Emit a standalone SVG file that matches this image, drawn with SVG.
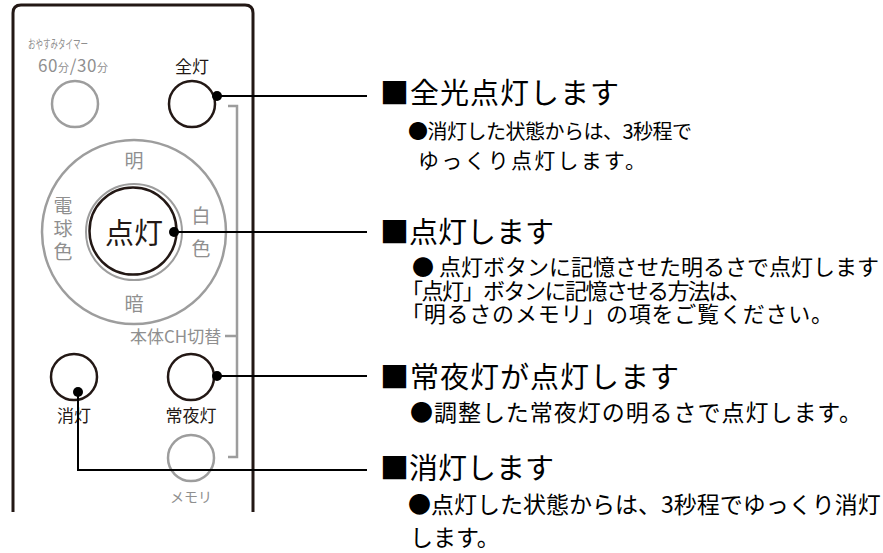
<svg xmlns="http://www.w3.org/2000/svg" width="883" height="553" viewBox="0 0 883 553">
<style>
text{font-family:"Noto Sans CJK JP","Noto Sans",sans-serif;}
.dk{stroke:#231815;fill:none;stroke-width:2.5}
.gy{stroke:#9d9d9d;fill:none;stroke-width:2.5}
.gt{fill:#8f8f8f}
.bt{fill:#231815}
.con{stroke:#000;stroke-width:2;fill:none}
.dot{fill:#000}
.h{font-size:29px;fill:#000}
.s{fill:#000}
.vt{writing-mode:vertical-rl;letter-spacing:4px}
.div line{stroke:#9d9d9d;stroke-width:5.5}
</style>
<defs>
<clipPath id="dial"><circle cx="134" cy="232" r="92"/></clipPath>
<g id="divider"><line x1="30" y1="-6" x2="100" y2="-6"/><line x1="30" y1="6" x2="100" y2="6"/></g>
</defs>
<rect width="883" height="553" fill="#fff"/>

<g id="remote">
<path d="M13,512 V13 Q13,5 21,5 H245 Q253,5 253,13 V512" fill="none" stroke="#231815" stroke-width="3"/>
</g>

<g id="timer">
<text class="gt" x="28" y="49" font-size="12.5" textLength="60" lengthAdjust="spacingAndGlyphs">おやすみタイマー</text>
<text class="gt" x="38" y="72" textLength="70"><tspan font-size="17">60</tspan><tspan font-size="11">分</tspan><tspan font-size="17">/30</tspan><tspan font-size="11">分</tspan></text>
<circle class="gy" cx="75" cy="104" r="23"/>
</g>

<g id="zentou">
<text class="bt" x="192" y="73" font-size="17" text-anchor="middle">全灯</text>
<circle class="dk" cx="192" cy="104" r="23"/>
</g>

<g id="dialpad">
<circle class="gy" cx="134" cy="232" r="92" stroke-width="3"/>
<g class="div" clip-path="url(#dial)">
<use href="#divider" transform="translate(134,232) rotate(45)"/>
<use href="#divider" transform="translate(134,232) rotate(135)"/>
<use href="#divider" transform="translate(134,232) rotate(225)"/>
<use href="#divider" transform="translate(134,232) rotate(315)"/>
</g>
<circle cx="134" cy="232" r="48" fill="#fff" stroke="#9d9d9d" stroke-width="2"/>
<g class="gt" font-size="19">
<text x="134" y="168" text-anchor="middle">明</text>
<text x="134" y="311" text-anchor="middle">暗</text>
<text class="vt" x="63" y="196">電球色</text>
<text class="vt" x="201" y="206" style="letter-spacing:14px">白色</text>
</g>
</g>

<g id="tentou">
<circle class="dk" cx="133" cy="231" r="43.5"/>
<text class="bt" x="134" y="244" font-size="29" text-anchor="middle">点灯</text>
</g>

<g id="ch">
<text class="gt" x="130" y="343" font-size="17">本体CH切替</text>
<path class="gy" d="M225,336 H237 M228,106 H237 V457 H228" stroke-width="2.5"/>
</g>

<g id="shoutou">
<circle class="dk" cx="74" cy="377" r="23"/>
<text class="bt" x="74" y="422" font-size="17" text-anchor="middle">消灯</text>
</g>

<g id="jouyatou">
<circle class="dk" cx="191" cy="377" r="23"/>
<text class="bt" x="191" y="422" font-size="17" text-anchor="middle">常夜灯</text>
</g>

<g id="memory">
<circle class="gy" cx="191" cy="458" r="23"/>
<text class="gt" x="191" y="502" font-size="14" text-anchor="middle">メモリ</text>
</g>

<g id="connectors">
<path class="con" d="M217,96 H367"/>
<path class="con" d="M174,232 H367"/>
<path class="con" d="M217,376 H367"/>
<path class="con" d="M78,392 V470 H367"/>
<circle class="dot" cx="217" cy="96" r="5"/>
<circle class="dot" cx="174" cy="232" r="5"/>
<circle class="dot" cx="217" cy="376" r="5"/>
<circle class="dot" cx="78" cy="392" r="5"/>
</g>

<g id="desc1">
<text class="h" x="380" y="104" letter-spacing="1">■全光点灯します</text>
<text class="s" font-size="20"><tspan x="408" y="139" textLength="284">●消灯した状態からは、3秒程で</tspan><tspan x="418" y="168" font-size="21" textLength="228">ゆっくり点灯します。</tspan></text>
</g>

<g id="desc2">
<text class="h" x="380" y="243">■点灯します</text>
<text class="s" font-size="22"><tspan x="412" y="275">● 点灯ボタンに記憶させた明るさで点灯します</tspan><tspan x="401" y="298.5" textLength="350">「点灯」ボタンに記憶させる方法は、</tspan><tspan x="401" y="322" textLength="432">「明るさのメモリ」の項をご覧ください。</tspan></text>
</g>

<g id="desc3">
<text class="h" x="380" y="388" letter-spacing="1">■常夜灯が点灯します</text>
<text class="s" x="410" y="421" font-size="23" textLength="452">●調整した常夜灯の明るさで点灯します。</text>
</g>

<g id="desc4">
<text class="h" x="380" y="479">■消灯します</text>
<text class="s" font-size="23"><tspan x="408" y="513">●点灯した状態からは、3秒程でゆっくり消灯</tspan><tspan x="410" y="546">します。</tspan></text>
</g>
</svg>
